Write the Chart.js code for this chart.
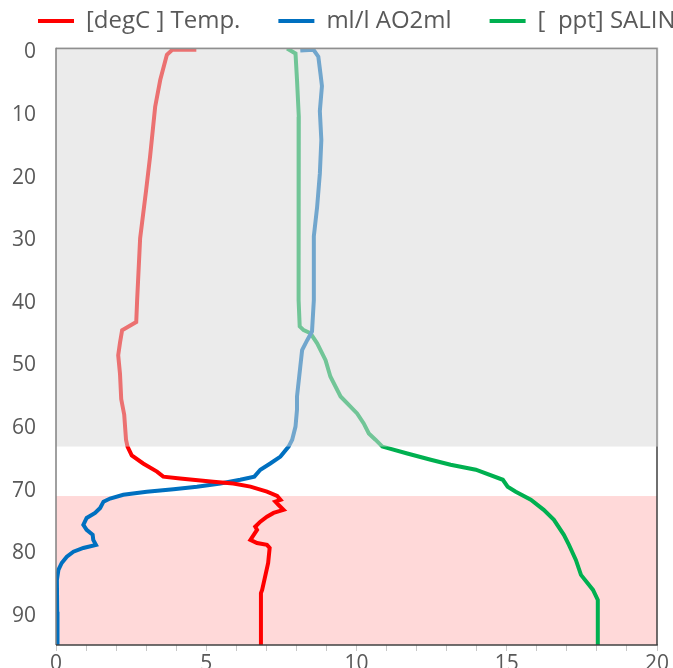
<!DOCTYPE html>
<html>
<head>
<meta charset="utf-8">
<script src="https://cdn.jsdelivr.net/npm/chart.js@4/dist/chart.umd.min.js"></script>
<style>
  html, body { margin: 0; padding: 0; background: #fff; overflow: hidden; }
  #wrap { width: 673px; height: 668px; overflow: hidden; position: relative; }
  canvas { display: block; position: absolute; left: 0; top: 0; }
</style>
</head>
<body>
<div id="wrap"><canvas id="c" width="760" height="668"></canvas></div>
<script>
const seriesNames = ['[degC ] Temp.', 'ml/l AO2ml', '[  ppt] SALIN'];
const seriesColors = ['#FF0000', '#0070C0', '#00B050'];

const tempDepth = [0.2,0.2,1,5,9.3,17.3,22.6,30.3,40.2,43.7,45,47,49,52,56,58.5,62.5,63.6,65,66.3,67.6,68.4,68.7,69.2,69.5,70,70.8,71.5,72.1,72.4,72.9,73.7,74.2,74.8,75.6,76.4,76.9,77.7,78.5,79,79.3,79.8,82.2,86.5,87,95.3];
const tempVals  = [4.67,3.87,3.69,3.47,3.3,3.13,3.0,2.8,2.7,2.67,2.2,2.13,2.07,2.13,2.17,2.27,2.33,2.38,2.52,2.9,3.36,3.57,4.13,5.23,5.9,6.47,7.02,7.36,7.47,7.3,7.4,7.57,7.24,7.02,6.8,6.63,6.69,6.58,6.47,6.69,7.02,7.11,7.06,6.86,6.82,6.82];

const oxyDepth = [0.3,0.2,1.3,4,6,10,14.6,20,25.3,30,40.2,45.2,46.6,48.2,50.8,55.6,57.7,60.4,62.5,63.6,65.2,66.3,67.3,68.4,68.9,69.5,70,70.4,70.8,71.3,71.9,72.4,73.4,74.2,75,76.1,76.9,77.7,78.5,79.3,79.8,80.4,81.2,82.2,83.3,84.9,90,95.3];
const oxyVals  = [8.13,8.57,8.73,8.8,8.85,8.78,8.83,8.78,8.69,8.58,8.58,8.52,8.36,8.19,8.13,8.02,8.02,7.97,7.86,7.74,7.47,7.13,6.8,6.6,6.13,5.47,4.69,3.91,3.02,2.24,1.8,1.58,1.47,1.3,1.02,0.91,1.02,1.22,1.24,1.33,0.91,0.58,0.36,0.19,0.08,0.03,0.04,0.05];

const salDepth = [0,0.8,5,10.9,20,30,40.2,44.4,45,45.5,47.1,49.8,52.4,55.6,58.3,59.9,61.5,62.5,63.6,64.7,65.7,66.5,67.3,68.9,70,70.8,72.1,73.7,75.3,77.7,79.3,81.7,84.1,86.5,88.1,95.3];
const salVals  = [7.69,7.97,8.02,8.08,8.07,8.07,8.08,8.11,8.24,8.47,8.69,8.97,9.13,9.47,10.02,10.24,10.41,10.63,10.86,11.69,12.47,13.13,13.97,14.87,15.03,15.3,15.8,16.23,16.57,16.9,17.07,17.3,17.47,17.87,18.03,18.03];

const xTickLabels = [0, 5, 10, 15, 20];
const yTickStep = 10;
const depthMax = 95.3;
const greyBandTo = 63.6;   // shaded upper layer (depth)
const pinkBandFrom = 71.5; // shaded lower layer (depth)

function pts(vals, depth) { return vals.map((v, i) => ({ x: v, y: depth[i] })); }

const bandPlugin = {
  id: 'bands',
  beforeDatasetsDraw(chart) {
    const { ctx, chartArea: a, scales: { y } } = chart;
    const top = y.getPixelForValue(pinkBandFrom);
    ctx.save();
    ctx.fillStyle = '#FFD9D9';
    ctx.fillRect(a.left, top, a.right - a.left, a.bottom - top);
    ctx.restore();
  },
  afterDatasetsDraw(chart) {
    const { ctx, chartArea: a, scales: { y } } = chart;
    ctx.save();
    ctx.strokeStyle = '#404040';
    ctx.lineWidth = 1.5;
    ctx.beginPath();
    ctx.moveTo(a.left, a.top); ctx.lineTo(a.right, a.top); ctx.lineTo(a.right, a.bottom);
    ctx.stroke();
    const bot = y.getPixelForValue(greyBandTo);
    ctx.fillStyle = 'rgba(216,216,216,0.52)';
    ctx.fillRect(a.left, a.top - 1, a.right - a.left + 1.5, bot - a.top + 1);
    ctx.strokeStyle = '#808080';
    ctx.beginPath(); ctx.moveTo(a.left, a.top - 0.75); ctx.lineTo(a.left, a.bottom); ctx.stroke();
    ctx.strokeStyle = '#404040';
    ctx.beginPath(); ctx.moveTo(a.left, a.bottom); ctx.lineTo(a.right + 0.75, a.bottom); ctx.stroke();
    ctx.restore();
  }
};

const mk = (i, vals, depth) => ({
  label: seriesNames[i],
  data: pts(vals, depth),
  borderColor: seriesColors[i],
  backgroundColor: seriesColors[i],
  borderWidth: 4,
  showLine: true,
  pointRadius: 0,
  pointHoverRadius: 0,
  tension: 0
});

new Chart(document.getElementById('c'), {
  type: 'scatter',
  data: {
    datasets: [
      mk(0, tempVals, tempDepth),
      mk(1, oxyVals, oxyDepth),
      mk(2, salVals, salDepth)
    ]
  },
  options: {
    responsive: false,
    animation: false,
    layout: { padding: { left: 0, right: 0, top: -29, bottom: 0 } },
    plugins: {
      tooltip: { enabled: false },
      title: { display: true, text: ' ', weight: 500, font: { size: 1, lineHeight: 1 }, padding: { top: 0, bottom: 4.5 } },
      legend: {
        position: 'top',
        align: 'start',
        labels: {
          boxWidth: 36,
          boxHeight: 4,
          padding: 38,
          color: '#595959',
          font: { family: 'Open Sans', size: 24 },
          generateLabels: (chart) => Chart.defaults.plugins.legend.labels.generateLabels(chart)
            .map(l => Object.assign({}, l, { lineWidth: 0, fillStyle: l.strokeStyle }))
        }
      }
    },
    scales: {
      x: {
        type: 'linear',
        position: 'bottom',
        min: 0, max: 20,
        ticks: {
          stepSize: 1,
          autoSkip: false,
          maxRotation: 0,
          padding: 0,
          color: '#595959',
          font: { family: 'Open Sans', size: 21 },
          callback: (v) => xTickLabels.includes(v) ? String(v) : ''
        },
        grid: { drawOnChartArea: false, tickLength: 6, color: '#c8c8c8' },
        border: { display: false },
        afterFit: (s) => { s.height = 23; }
      },
      y: {
        type: 'linear',
        position: 'left',
        reverse: true,
        min: 0, max: depthMax,
        ticks: {
          stepSize: yTickStep,
          includeBounds: false,
          padding: 0,
          labelOffset: 4,
          color: '#595959',
          font: { family: 'Open Sans', size: 21 }
        },
        grid: { drawOnChartArea: false, drawTicks: true, tickLength: 20, tickColor: 'rgba(0,0,0,0)' },
        border: { display: false },
        afterFit: (s) => { s.width = 56; }
      },
      yRight: {
        type: 'linear',
        axis: 'y',
        position: 'right',
        display: true,
        min: 0, max: depthMax,
        ticks: { display: false },
        grid: { display: false, drawTicks: false },
        border: { display: false },
        afterFit: (s) => { s.width = 103; }
      }
    }
  },
  plugins: [bandPlugin]
});
</script>
</body>
</html>
